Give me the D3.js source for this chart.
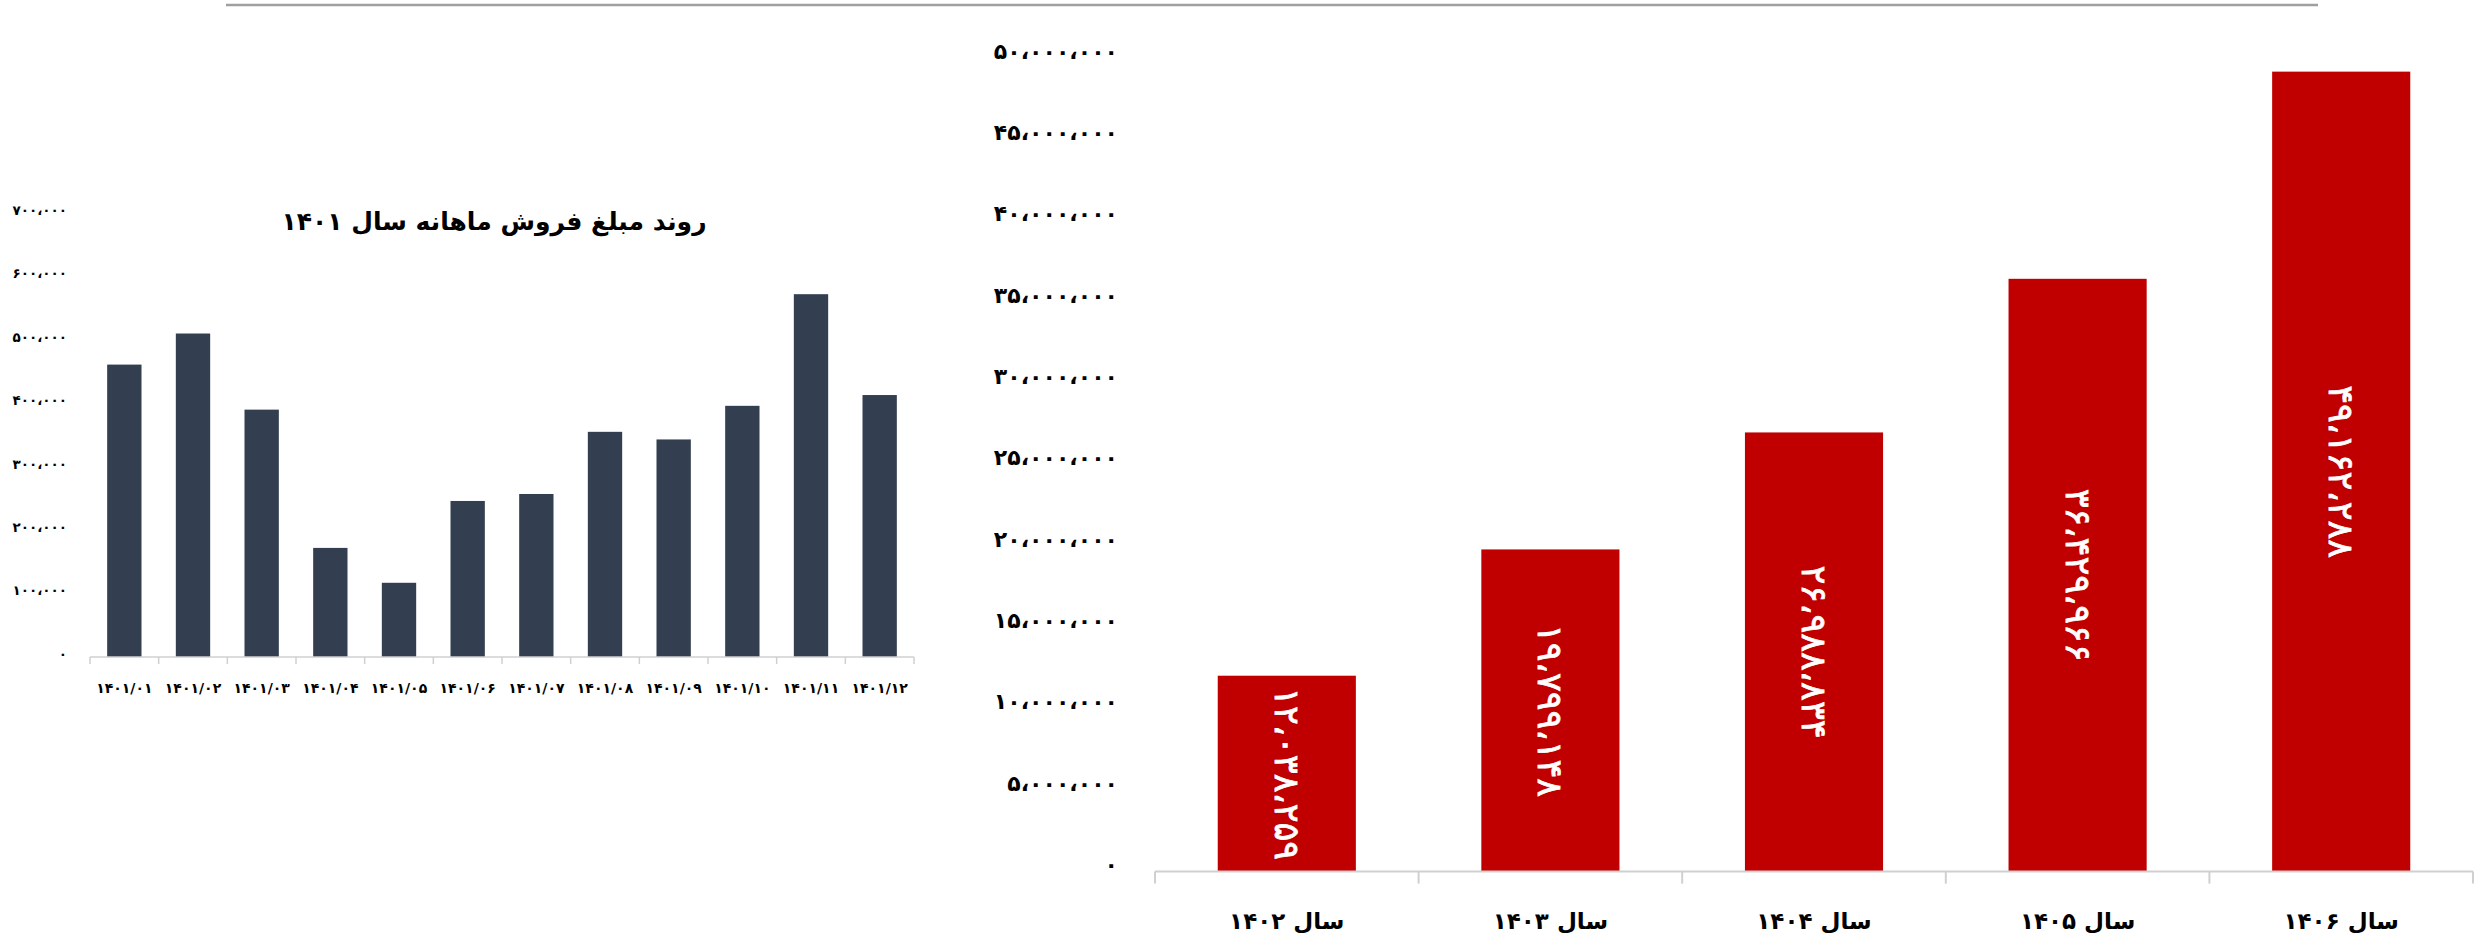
<!DOCTYPE html>
<html lang="fa">
<head>
<meta charset="utf-8">
<script src="https://cdn.jsdelivr.net/npm/d3@7"></script>
<style>
  html, body { margin: 0; padding: 0; background: #ffffff; }
  svg { display: block; }
  text { font-family: "DejaVu Sans", sans-serif; font-weight: bold; fill: #000; }
</style>
</head>
<body>
<svg id="chart" width="2484" height="950"></svg>
<script>
// Monthly sales amounts for 1401
const months = ["1401/01","1401/02","1401/03","1401/04","1401/05","1401/06",
                "1401/07","1401/08","1401/09","1401/10","1401/11","1401/12"];
const monthlySales = [461000, 510000, 390000, 172000, 117000, 246000,
                      257000, 355000, 343000, 396000, 572000, 413000];
const monthlyTicks = [0, 100000, 200000, 300000, 400000, 500000, 600000, 700000];
const monthlyTitle = "روند مبلغ فروش ماهانه سال ۱۴۰۱";

// Yearly sales projection
const years = ["سال ۱۴۰۲", "سال ۱۴۰۳", "سال ۱۴۰۴", "سال ۱۴۰۵", "سال ۱۴۰۶"];
const yearlySales = [12038259, 19799148, 26988834, 36429966, 49162288];
const yearlyTicks = [0, 5000000, 10000000, 15000000, 20000000, 25000000,
                     30000000, 35000000, 40000000, 45000000, 50000000];

// Latin digits and separators -> Persian
const faDigits = "۰۱۲۳۴۵۶۷۸۹";
const toFa = s => String(s).replace(/[0-9]/g, c => faDigits[+c]).replace(/,/g, "،");
const fmt = v => toFa(d3.format(",")(v));

const svg = d3.select("#chart");

// header rule
svg.append("line")
  .attr("x1", 226).attr("x2", 2318).attr("y1", 5).attr("y2", 5)
  .attr("stroke", "#a0a0a0").attr("stroke-width", 2.5);

// ---------- monthly chart ----------
const xM = d3.scaleBand().domain(months).range([90, 914])
  .paddingInner(0.5).paddingOuter(0.25);
const yM = d3.scaleLinear().domain([0, 700000]).range([657, 213]);

const gM = svg.append("g");

gM.append("text")
  .attr("x", 494).attr("y", 221)
  .attr("text-anchor", "middle").attr("dominant-baseline", "central")
  .attr("direction", "rtl")
  .style("font-size", "25px")
  .text(monthlyTitle);

gM.append("g")
  .attr("transform", "translate(70,0)")
  .call(d3.axisLeft(yM).tickValues(monthlyTicks).tickSize(0).tickPadding(3).tickFormat(fmt))
  .call(g => g.select(".domain").remove())
  .call(g => g.selectAll("text").style("font-size", "13.5px").attr("dy", "0.1em"));

gM.selectAll("rect.bar").data(monthlySales).join("rect")
  .attr("class", "bar")
  .attr("x", (d, i) => xM(months[i]))
  .attr("width", xM.bandwidth())
  .attr("y", d => yM(d))
  .attr("height", d => yM(0) - yM(d))
  .attr("fill", "#333f50");

const mStep = xM.step();
const mStart = xM.range()[0];
gM.append("line")
  .attr("x1", mStart).attr("x2", mStart + mStep * months.length)
  .attr("y1", yM(0)).attr("y2", yM(0))
  .attr("stroke", "#d0d0d0").attr("stroke-width", 1.5);
gM.selectAll("line.tick").data(d3.range(months.length + 1)).join("line")
  .attr("class", "tick")
  .attr("x1", i => mStart + i * mStep).attr("x2", i => mStart + i * mStep)
  .attr("y1", yM(0)).attr("y2", yM(0) + 7)
  .attr("stroke", "#d0d0d0").attr("stroke-width", 1.5);

gM.append("g")
  .attr("transform", `translate(0,${yM(0)})`)
  .call(d3.axisBottom(xM).tickSize(0).tickPadding(26).tickFormat(toFa))
  .call(g => g.select(".domain").remove())
  .call(g => g.selectAll("text").style("font-size", "14px"));

// ---------- yearly chart ----------
const xY = d3.scaleBand().domain(years).range([1155, 2473])
  .paddingInner(0.476).paddingOuter(0.238);
const yY = d3.scaleLinear().domain([0, 50000000]).range([871.6, 58]);

const gY = svg.append("g");

gY.append("g")
  .attr("transform", "translate(1121,0)")
  .call(d3.axisLeft(yY).tickValues(yearlyTicks).tickSize(0).tickPadding(3).tickFormat(fmt))
  .call(g => g.select(".domain").remove())
  .call(g => g.selectAll("text").style("font-size", "22px").attr("dy", "0.0em"));

gY.selectAll("rect.bar").data(yearlySales).join("rect")
  .attr("class", "bar")
  .attr("x", (d, i) => xY(years[i]))
  .attr("width", xY.bandwidth())
  .attr("y", d => yY(d))
  .attr("height", d => yY(0) - yY(d))
  .attr("fill", "#c00000");

gY.selectAll("text.value").data(yearlySales).join("text")
  .attr("class", "value")
  .attr("transform", (d, i) =>
    `translate(${xY(years[i]) + xY.bandwidth() / 2},${(yY(d) + yY(0)) / 2}) rotate(90)`)
  .attr("text-anchor", "middle").attr("dominant-baseline", "central")
  .style("font-size", "35px").style("font-weight", "normal").style("fill", "#ffffff")
  .style("stroke", "#ffffff").style("stroke-width", 0.8)
  .text(fmt);

const yStep = xY.step();
const yStart = xY.range()[0];
gY.append("line")
  .attr("x1", yStart).attr("x2", yStart + yStep * years.length)
  .attr("y1", yY(0)).attr("y2", yY(0))
  .attr("stroke", "#d0d0d0").attr("stroke-width", 2);
gY.selectAll("line.tick").data(d3.range(years.length + 1)).join("line")
  .attr("class", "tick")
  .attr("x1", i => yStart + i * yStep).attr("x2", i => yStart + i * yStep)
  .attr("y1", yY(0)).attr("y2", yY(0) + 12)
  .attr("stroke", "#d0d0d0").attr("stroke-width", 2);

gY.append("g")
  .attr("transform", `translate(0,${yY(0)})`)
  .call(d3.axisBottom(xY).tickSize(0).tickPadding(41))
  .call(g => g.select(".domain").remove())
  .call(g => g.selectAll("text").style("font-size", "23px").attr("direction", "rtl"));
</script>
</body>
</html>
